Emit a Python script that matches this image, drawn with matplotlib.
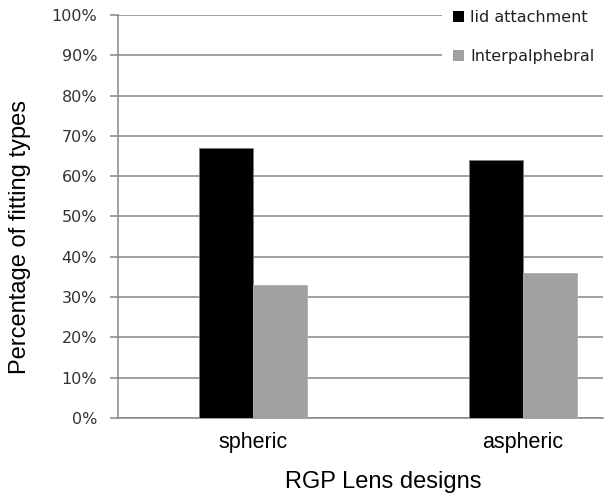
import matplotlib
matplotlib.use("Agg")
import matplotlib.pyplot as plt
from matplotlib.patches import Patch
from matplotlib.ticker import PercentFormatter

# fitting type share per lens design (%)
designs        = ["spheric", "aspheric"]
lid_attachment = [67, 64]
interpalpebral = [33, 36]
series_names   = ["lid attachment", "Interpalphebral"]
y_ticks        = list(range(0, 101, 10))

GRID = "#868686"
BLACK = "#000000"
GREY = "#a0a0a0"

fig = plt.figure(figsize=(6.05, 4.95), dpi=100)
ax = fig.add_axes([0.195, 0.1556, 0.8017, 0.8141])

x = list(range(len(designs)))
w = 0.2
ax.bar([i - w / 2 for i in x], lid_attachment, width=w, color=BLACK,
       edgecolor="#808080", linewidth=0.6, zorder=3)
ax.bar([i + w / 2 for i in x], interpalpebral, width=w, color=GREY,
       edgecolor="#b0b0b0", linewidth=0.6, zorder=3)

ax.set_xlim(-0.5, 1.296)
ax.set_ylim(0, 100)
ax.set_yticks(y_ticks)
ax.yaxis.set_major_formatter(PercentFormatter(decimals=0))
ax.set_xticks(x)
ax.set_xticklabels(designs, fontfamily="Liberation Sans", fontsize=15.5)

ax.yaxis.grid(True, color=GRID, linewidth=1.1, zorder=0)
ax.set_axisbelow(True)
for s in ["top", "right"]:
    ax.spines[s].set_visible(False)
for s in ["left", "bottom"]:
    ax.spines[s].set_color(GRID)
    ax.spines[s].set_linewidth(1.1)

ax.tick_params(axis="y", direction="out", length=6, width=1.1, color=GRID,
               pad=9, labelsize=11.5, labelcolor="#333333")
ax.tick_params(axis="x", length=0, pad=10)

ax.set_xlabel("RGP Lens designs", fontfamily="Liberation Sans", fontsize=17)
ax.xaxis.set_label_coords(0.546, -0.159)
ax.xaxis.label.set_va("center")
ax.set_ylabel("Percentage of fitting types", fontfamily="Liberation Sans",
              fontsize=17)
ax.yaxis.set_label_coords(-0.202, 0.45)
ax.yaxis.label.set_va("center")

# legend sits over the top-right corner, white box hides the grid behind it
handles = [Patch(facecolor=BLACK), Patch(facecolor=GREY)]
leg = fig.legend(handles, series_names, loc="upper right",
                 bbox_to_anchor=(1.0, 1.0), frameon=True, facecolor="white",
                 edgecolor="none", framealpha=1, fancybox=False,
                 fontsize=11.5, handlelength=0.7, handleheight=0.7,
                 handletextpad=0.4, labelspacing=1.5, borderpad=0.65,
                 borderaxespad=0.0)
for t in leg.get_texts():
    t.set_color("#222222")

fig.savefig("out.png", dpi=100)
